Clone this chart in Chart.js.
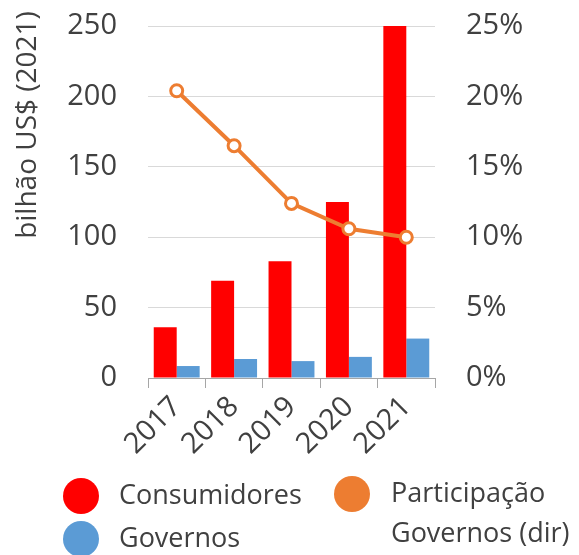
<!DOCTYPE html>
<html>
<head>
<meta charset="utf-8">
<script src="https://cdn.jsdelivr.net/npm/chart.js@4"></script>
<style>
  body { margin: 0; background: #fff; }
  #wrap { position: relative; width: 579px; height: 555px; font-family: "Open Sans", sans-serif; color: #404040; }
  .dot { position: absolute; width: 36px; height: 36px; border-radius: 50%; }
  .lbl { position: absolute; font-size: 27px; line-height: 40px; white-space: nowrap; }
</style>
</head>
<body>
<div id="wrap">
  <canvas id="chart" width="579" height="555"></canvas>
  <div class="dot" style="left:63px;top:478px;background:#FF0000"></div>
  <div class="lbl" style="left:119px;top:474px">Consumidores</div>
  <div class="dot" style="left:63px;top:521px;background:#5B9BD5"></div>
  <div class="lbl" style="left:119px;top:517px">Governos</div>
  <div class="dot" style="left:334px;top:476px;background:#ED7D31"></div>
  <div class="lbl" style="left:391px;top:472px">Participação<br>Governos (dir)</div>
</div>
<script>
const years = ['2017', '2018', '2019', '2020', '2021'];
const consumidores = [36, 69, 83, 125, 250];
const governos = [8.5, 13.5, 12, 15, 28];
const participacao = [20.4, 16.5, 12.4, 10.6, 10.0];

const TEXT = '#404040';
const FONT = { family: '"Open Sans", sans-serif', size: 29 };

// y-axis title sits above the middle of the axis in the original
const axisTitle = {
    id: 'axisTitle',
    afterDraw(chart) {
        const ctx = chart.ctx;
        ctx.save();
        ctx.translate(28, 125);
        ctx.rotate(-Math.PI / 2);
        ctx.font = '28px "Open Sans", sans-serif';
        ctx.fillStyle = TEXT;
        ctx.textAlign = 'center';
        ctx.textBaseline = 'middle';
        ctx.fillText('bilhão US$ (2021)', 0, 0);
        ctx.restore();
    }
};

// fixed axis widths; drop the tick padding chart.js adds above/below the axis
function fixY(width) {
    return s => { s.width = width; s.paddingTop = 0; s.paddingBottom = 0; };
}

new Chart(document.getElementById('chart'), {
    type: 'bar',
    data: {
        labels: years,
        datasets: [
            {
                type: 'line',
                label: 'Participação Governos (dir)',
                data: participacao,
                yAxisID: 'y1',
                borderColor: '#ED7D31',
                borderWidth: 4,
                pointRadius: 6,
                pointBorderWidth: 3,
                pointBackgroundColor: '#fff',
                pointBorderColor: '#ED7D31',
                order: 0
            },
            {
                label: 'Consumidores',
                data: consumidores,
                backgroundColor: '#FF0000',
                categoryPercentage: 0.8,
                barPercentage: 1.0,
                order: 1
            },
            {
                label: 'Governos',
                data: governos,
                backgroundColor: '#5B9BD5',
                categoryPercentage: 0.8,
                barPercentage: 1.0,
                order: 1
            }
        ]
    },
    options: {
        responsive: false,
        animation: false,
        layout: { padding: { top: 26, left: 0, right: 0, bottom: 0 } },
        plugins: { legend: { display: false }, tooltip: { enabled: false } },
        scales: {
            x: {
                afterFit: s => { s.height = 177; },
                grid: { offset: true, drawOnChartArea: false, drawTicks: true, tickLength: 10, color: '#a6a6a6' },
                border: { display: true, color: '#a6a6a6' },
                ticks: { color: TEXT, font: FONT, minRotation: 45, maxRotation: 45, padding: 2 }
            },
            y: {
                position: 'left',
                min: 0, max: 250,
                afterFit: fixY(148),
                grid: { color: '#d9d9d9', drawTicks: false },
                border: { display: false },
                ticks: { stepSize: 50, color: TEXT, font: FONT, padding: 31 }
            },
            y1: {
                position: 'right',
                min: 0, max: 25,
                afterFit: fixY(144),
                grid: { drawOnChartArea: false, drawTicks: false },
                border: { display: false },
                ticks: { stepSize: 5, color: TEXT, font: FONT, padding: 31, callback: v => v + '%' }
            }
        }
    },
    plugins: [axisTitle]
});
</script>
</body>
</html>
